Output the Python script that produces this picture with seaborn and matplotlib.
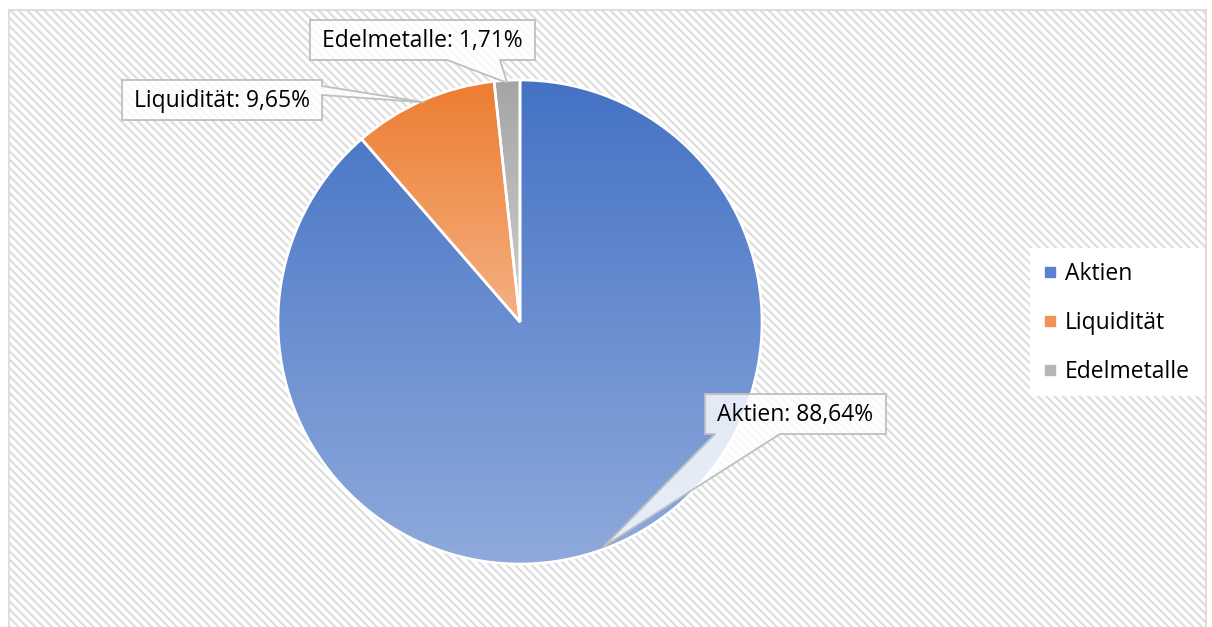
import matplotlib
matplotlib.use('Agg')
import matplotlib.pyplot as plt
import numpy as np
import seaborn as sns
from matplotlib.colors import LinearSegmentedColormap
from matplotlib.patches import Rectangle, Polygon
from matplotlib.lines import Line2D

# Daten
categories = ['Aktien', 'Liquidität', 'Edelmetalle']
shares = [88.64, 9.65, 1.71]
label_texts = ['Aktien: 88,64%', 'Liquidität: 9,65%', 'Edelmetalle: 1,71%']
top_colors = ['#4472C4', '#ED7D31', '#A5A5A5']
bottom_colors = ['#8FAADC', '#F4B183', '#CFCFCF']

sns.set_theme(style='white')
plt.rcParams['font.family'] = ['Open Sans', 'DejaVu Sans']
plt.rcParams['hatch.linewidth'] = 1.6

W, H = 1212, 627
fig = plt.figure(figsize=(W / 100, H / 100), dpi=100)
fig.patch.set_facecolor('white')


def fx(x, y):
    # Pixel (Ursprung oben links) -> Figure-Koordinaten
    return x / W, 1 - y / H


# Hintergrund mit Schraffur + Rahmen
fig.add_artist(Rectangle(fx(9, 630), 1197 / W, 620 / H, transform=fig.transFigure,
                         facecolor='white', edgecolor='#dedede', lw=0,
                         hatch='\\\\\\\\', zorder=0))
fig.add_artist(Rectangle(fx(9, 630), 1197 / W, 620 / H, transform=fig.transFigure,
                         facecolor='none', edgecolor='#d9d9d9', lw=1.2, zorder=1))

# Kreisdiagramm
ax = fig.add_axes([278 / W, (H - 564) / H, 484 / W, 484 / H])
wedges, _ = ax.pie(shares, startangle=90, counterclock=False, colors=top_colors,
                   wedgeprops=dict(edgecolor='white', linewidth=1.9))

# Farbverlauf je Segment
for w, c_top, c_bot in zip(wedges, top_colors, bottom_colors):
    v = w.get_path().vertices
    x0, x1 = v[:, 0].min(), v[:, 0].max()
    y0, y1 = v[:, 1].min(), v[:, 1].max()
    cmap = LinearSegmentedColormap.from_list('g', [c_top, c_bot])
    grad = np.linspace(0, 1, 256).reshape(-1, 1)
    ax.imshow(grad, extent=(x0, x1, y0, y1), cmap=cmap, aspect='auto',
              clip_path=w, zorder=1, interpolation='bilinear')
    w.set_facecolor('none')
    w.set_zorder(2)

ax.set_xlim(-1, 1)
ax.set_ylim(-1, 1)
ax.set_axis_off()
fig.canvas.draw()

# Spitzen der Beschriftungen (Mitte des Segments am Rand)
tips = []
for w in wedges:
    mid = np.deg2rad((w.theta1 + w.theta2) / 2)
    d = ax.transData.transform((np.cos(mid) * 0.99, np.sin(mid) * 0.99))
    tips.append(fig.transFigure.inverted().transform(d))

# Boxen (Pixel oben links): x0, x1, y0, y1
boxes = [(705, 886, 394, 434), (122, 322, 80, 120), (310, 535, 20, 60)]


def callout(i):
    x0, x1, y0, y1 = boxes[i]
    tip = tuple(tips[i])
    if i == 0:
        pts = [fx(x0, y0), fx(x1, y0), fx(x1, y1), fx(780, y1), tip, fx(715, y1), fx(x0, y1)]
    elif i == 1:
        pts = [fx(x0, y0), fx(x1, y0), fx(x1, 86), tip, fx(x1, 95), fx(x1, y1), fx(x0, y1)]
    else:
        pts = [fx(x0, y0), fx(x1, y0), fx(x1, y1), fx(500, y1), tip, fx(447, y1), fx(x0, y1)]
    fig.add_artist(Polygon(pts, closed=True, transform=fig.transFigure,
                           facecolor=(1, 1, 1, 0.8), edgecolor='#bfbfbf', lw=1.3, zorder=5))
    cx, cy = fx((x0 + x1) / 2, (y0 + y1) / 2 + 1)
    fig.text(cx, cy, label_texts[i], ha='center', va='center', fontsize=16.5,
             color='black', zorder=6)


for i in range(3):
    callout(i)

# Legende
fig.add_artist(Rectangle(fx(1030, 396), 175 / W, 148 / H, transform=fig.transFigure,
                         facecolor='white', edgecolor='none', zorder=3))
handles = [Line2D([], [], marker='s', ls='', markersize=7.5, color=c) for c in
           ['#5B82CC', '#F0935A', '#B5B5B5']]
fig.legend(handles, categories, loc='center left', bbox_to_anchor=fx(1032, 323),
           frameon=False, fontsize=16.5, handlelength=0.6, handletextpad=0.35,
           labelspacing=1.1, borderpad=0, labelcolor='black')

fig.savefig('out.png', dpi=100)
